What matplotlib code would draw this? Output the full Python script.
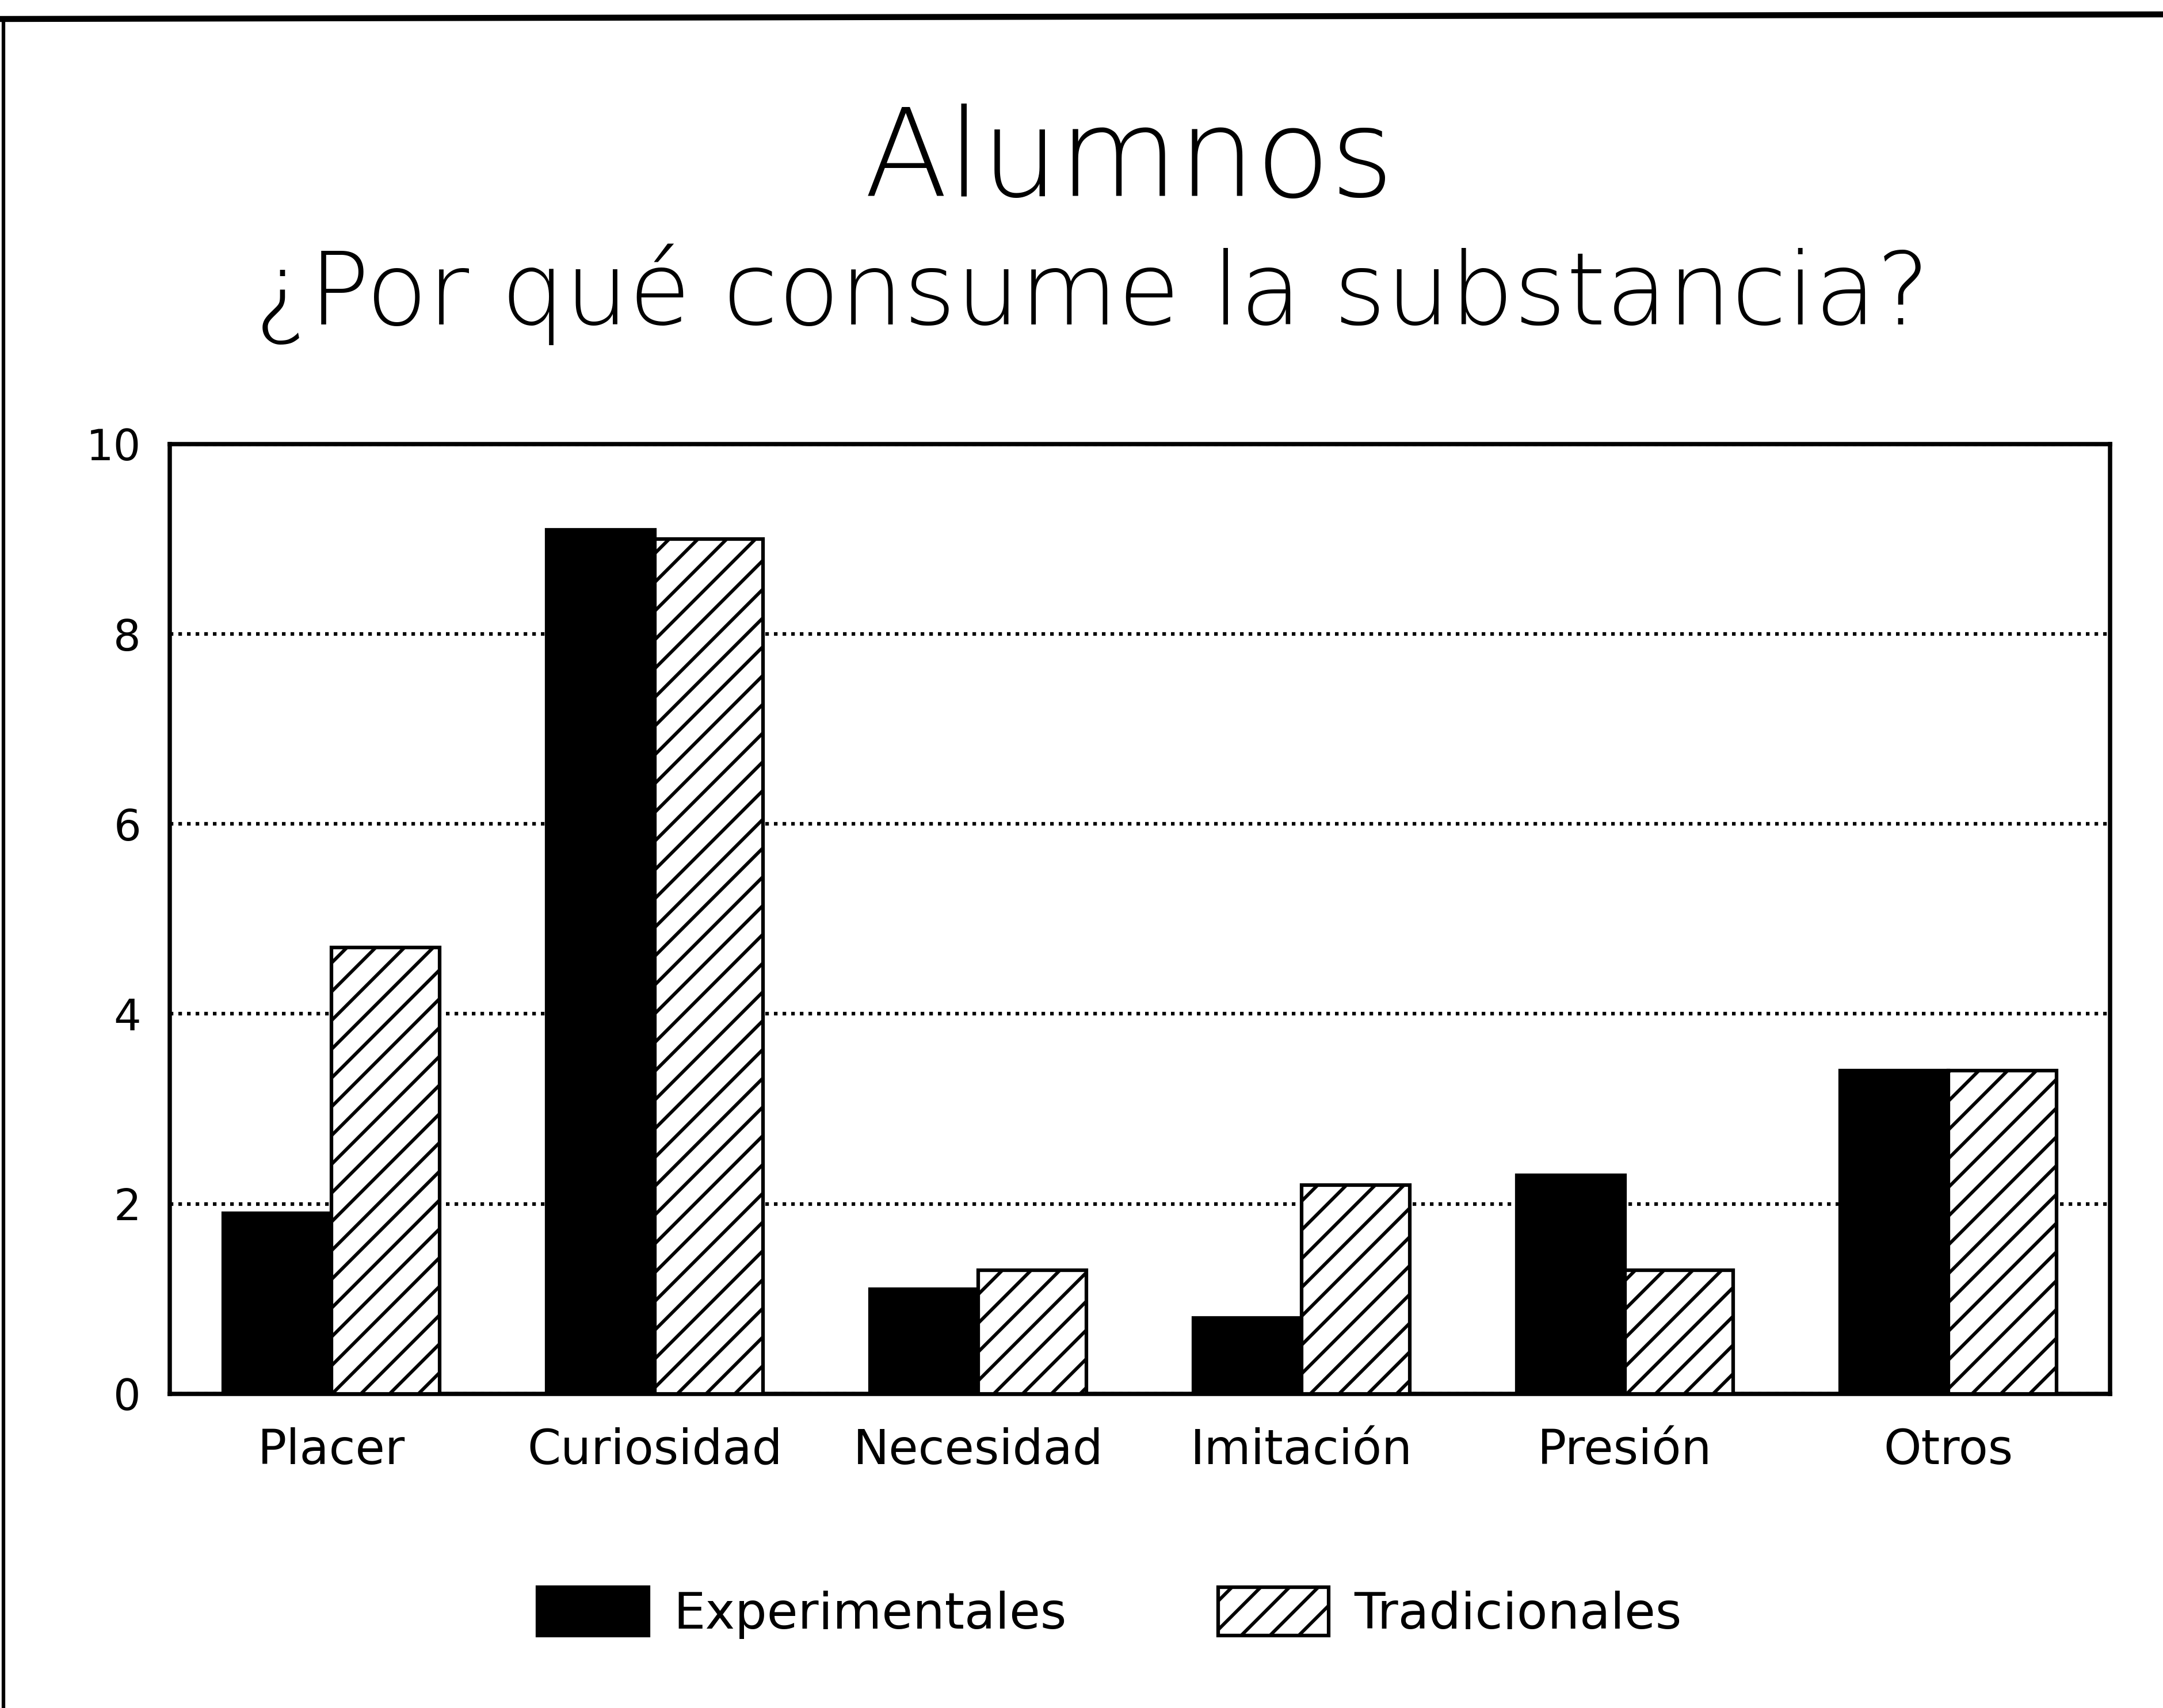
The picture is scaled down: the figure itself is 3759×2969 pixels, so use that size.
import numpy as np
import matplotlib
matplotlib.use('Agg')
import matplotlib.pyplot as plt
from matplotlib.lines import Line2D

categorias = ['Placer', 'Curiosidad', 'Necesidad', 'Imitación', 'Presión', 'Otros']
experimentales = [1.9, 9.1, 1.1, 0.8, 2.3, 3.4]
tradicionales = [4.7, 9.0, 1.3, 2.2, 1.3, 3.4]
yticks = [0, 2, 4, 6, 8, 10]

plt.rcParams['font.family'] = ['DejaVu Sans']
plt.rcParams['hatch.linewidth'] = 1.4
plt.rcParams['hatch.color'] = 'black'

fig = plt.figure(figsize=(3759 / 300, 2969 / 300), dpi=300)
ax = fig.add_axes([0.0785, 0.184, 0.897, 0.556])

x = np.arange(len(categorias))
w = 0.335
ax.bar(x - w / 2, experimentales, w, color='black', edgecolor='black',
       linewidth=1.5, label='Experimentales', zorder=3)
ax.bar(x + w / 2, tradicionales, w, color='white', edgecolor='black',
       linewidth=1.5, hatch='//', label='Tradicionales', zorder=3)

ax.set_xlim(-0.5, 5.5)
ax.set_ylim(0, 10)
ax.set_yticks(yticks)
ax.set_yticklabels([str(v) for v in yticks], fontsize=18)
ax.set_xticks(x)
ax.set_xticklabels(categorias, fontsize=20)
ax.tick_params(axis='x', length=0, pad=14)
ax.tick_params(axis='y', length=0, pad=12)
for s in ax.spines.values():
    s.set_linewidth(1.8)
ax.yaxis.grid(True, color='black', linestyle=(0, (1, 1.4)), linewidth=1.5, zorder=1)
ax.set_axisbelow(True)

fig.text(0.522, 0.885, 'Alumnos', ha='center', va='baseline', fontsize=51, fontweight='light')
fig.text(0.505, 0.810, '¿Por qué consume la substancia?', ha='center', va='baseline',
         fontsize=42, fontweight='light')

fig.legend(loc='center', bbox_to_anchor=(0.513, 0.0556), ncol=2, frameon=False,
           fontsize=21, handlelength=2.2, handleheight=1.1, columnspacing=3.0,
           handletextpad=0.5)

# marco del documento escaneado
fig.add_artist(Line2D([0.001, 1.0], [1 - 33 / 2969, 1 - 25 / 2969], color='black',
                      linewidth=2.5, transform=fig.transFigure))
fig.add_artist(Line2D([0.0015, 0.0015], [0.0, 1 - 33 / 2969], color='black',
                      linewidth=1.5, transform=fig.transFigure))

fig.savefig('out.png', dpi=300)
